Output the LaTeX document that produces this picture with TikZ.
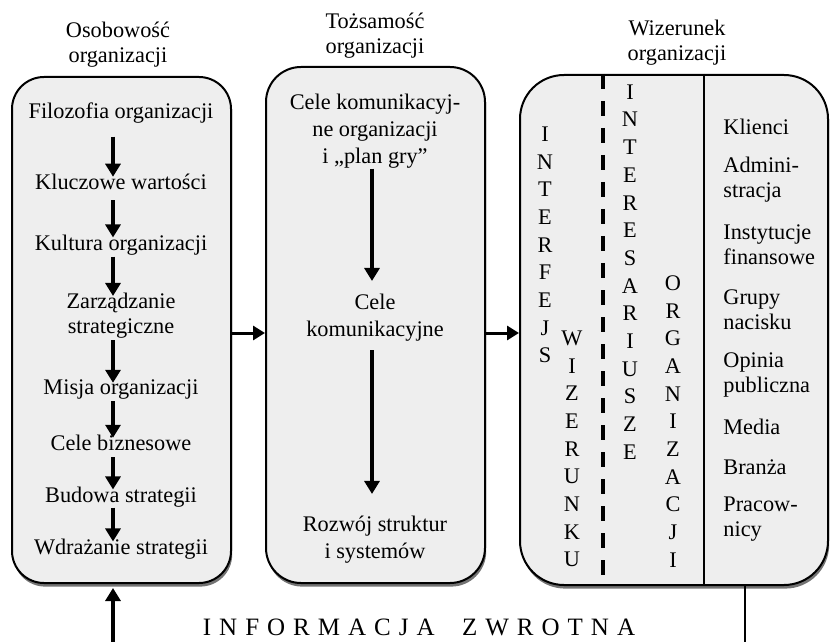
\documentclass[tikz,border=0pt]{standalone}
\usepackage{fontspec}
\setmainfont{Liberation Serif}
\usepackage{xcolor}
\definecolor{PanelFill}{RGB}{238,238,238}
\usetikzlibrary{math,arrows.meta,shadows,fit}
\tikzset{%
  panel/.style={draw, line width=1pt, fill=PanelFill, inner sep=0pt,
    drop shadow={shadow xshift=0.6pt, shadow yshift=-1.8pt, fill=black!55, opacity=1}},
  label text/.style={inner sep=0pt, align=center, font=\fontsize{11.15}{12.5}\selectfont},
  tall text/.style={inner sep=0pt, align=center, font=\fontsize{11.15}{13.5}\selectfont},
  list text/.style={inner sep=0pt, align=left, anchor=west, font=\fontsize{11.15}{12.5}\selectfont},
  letter/.style={inner sep=0pt, font=\fontsize{11.15}{12.5}\selectfont},
  flow/.style={-{Triangle[width=7.5pt,length=6.5pt]}, line width=2pt},
  flow link/.style={-{Triangle[width=7pt,length=6pt]}, line width=1.5pt}
}
\begin{document}
\begin{tikzpicture}[x=0.5pt,y=-0.5pt]
    \tikzmath{
      \ax=113;
      \mx=372;
      \pitch=27.7;
    }
    \useasboundingbox (0,0) rectangle (831,642);
    % three panels
    \node[panel, rounded corners=16pt, fit={(12,77) (231,583)}] (osob) {};
    \node[panel, rounded corners=17.5pt, fit={(266,67) (485,583)}] (tozs) {};
    \node[panel, rounded corners=22pt, fit={(520,75) (828,585)}] (wiz) {};
    \node[label text] (tOsob) at (118,45) {Osobowość\\organizacji};
    \node[label text] (tTozs) at (375,36) {Tożsamość\\organizacji};
    \node[label text] (tWiz) at (677,43) {Wizerunek\\organizacji};
    % left column
    \foreach \n/\y/\t in {1/113/Filozofia organizacji, 2/182/Kluczowe wartości,
        3/245/Kultura organizacji, 4/316/Zarządzanie\\strategiczne,
        5/390/Misja organizacji, 6/443/Cele biznesowe,
        7/497/Budowa strategii, 8/549/Wdrażanie strategii} {
      \node[label text] (f\n) at (121,\y) {\t};
    }
    \coordinate (ax) at (\ax,0);
    \foreach \a/\b/\s in {1/2/6.5pt, 2/3/5pt, 3/4/0.5pt, 4/5/0.5pt, 5/6/0.5pt, 6/7/3pt, 7/8/0pt} {
      \draw[flow, shorten <=\s, shorten >=-1.5pt] (f\a.south -| ax) -- (f\b.north -| ax);
    }
    % middle column
    \node[tall text] (c1) at (375,131) {Cele komunikacyj-\\ne organizacji\\i „plan gry”};
    \node[tall text] (c2) at (375,318) {Cele\\komunikacyjne};
    \node[tall text] (c3) at (375,540) {Rozwój struktur\\i systemów};
    \coordinate (mx) at (\mx,0);
    \draw[flow, shorten >=6.5pt] (c1.south -| mx) -- (c2.north -| mx);
    \draw[flow, shorten <=4pt, shorten >=11pt] (c2.south -| mx) -- (c3.north -| mx);
    % links between panels
    \coordinate (lvl) at (0,333);
    \draw[flow link] (osob.east |- lvl) -- (tozs.west |- lvl);
    \draw[flow link] (tozs.east |- lvl) -- (wiz.west |- lvl);
    % right panel
    \coordinate (dx) at (603,0);
    \coordinate (sx) at (704,0);
    \draw[line width=1.75pt, dash pattern=on 7.5pt off 6pt] (wiz.north -| dx) -- (wiz.south -| dx);
    \draw[line width=1.25pt] (wiz.north -| sx) -- (wiz.south -| sx);
    \foreach \l [count=\i] in {I,N,T,E,R,F,E,J,S}
      \node[letter] (ifc\i) at (545,{134+(\i-1)*\pitch}) {\l};
    \foreach \l [count=\i] in {W,I,Z,E,R,U,N,K,U}
      \node[letter] (wzr\i) at (572,{338+(\i-1)*\pitch}) {\l};
    \foreach \l [count=\i] in {I,N,T,E,R,E,S,A,R,I,U,S,Z,E}
      \node[letter] (ints\i) at (630,{92+(\i-1)*\pitch}) {\l};
    \foreach \l [count=\i] in {O,R,G,A,N,I,Z,A,C,J,I}
      \node[letter] (org\i) at (673,{283+(\i-1)*\pitch}) {\l};
    \foreach \n/\y/\t in {1/127/Klienci, 2/179.5/Admini-\\stracja,
        3/244.5/Instytucje\\finansowe, 4/309.5/Grupy\\nacisku,
        5/374.5/Opinia\\publiczna, 6/427/Media, 7/467/Branża,
        8/519.5/Pracow-\\nicy} {
      \node[list text] (r\n) at (723,\y) {\t};
    }
    % feedback
    \node[label text, font=\fontsize{12.5}{13}\selectfont\addfontfeatures{LetterSpace=32}]
      (info) at (419,627) {INFORMACJA\hspace{1.1em}ZWROTNA};
    \coordinate (fbL) at (\ax,642);
    \coordinate (fbR) at (745,642);
    \draw[flow, shorten >=2pt] (fbL) -- (fbL |- osob.south);
    \draw[line width=1.25pt] (wiz.south -| fbR) -- (fbR);
  \end{tikzpicture}
\end{document}
